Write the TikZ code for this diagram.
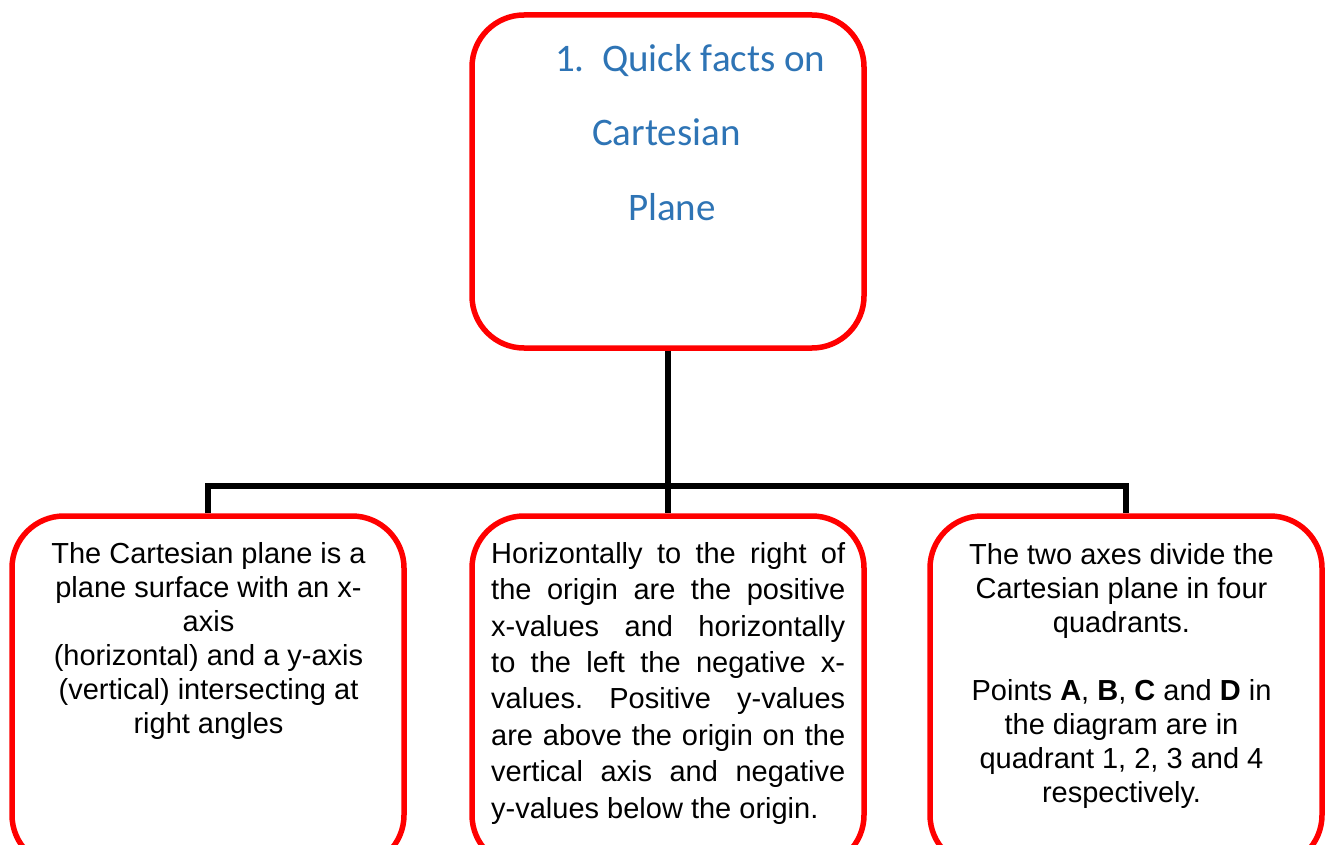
\documentclass[tikz,border=0pt]{standalone}
\usepackage{fontspec}
\setmainfont{Liberation Sans}
\newfontfamily\titlefont{Carlito}
\definecolor{boxred}{RGB}{255,0,0}
\definecolor{titleblue}{RGB}{46,116,181}
\frenchspacing
\begin{document}
\begin{tikzpicture}[x=1pt,y=-1pt,
  card/.style={draw=boxred, line width=5.5pt, rounded corners=52pt,
    minimum width=392pt, inner sep=0pt, fill=white},
  link/.style={draw=black, line width=5.5pt},
  heading/.style={anchor=base west, inner sep=0pt, text=titleblue,
    font=\titlefont\fontsize{39}{47}\selectfont},
  body/.style={inner sep=0pt, anchor=base, font=\fontsize{29}{34}\selectfont}
]
\useasboundingbox (0,0) rectangle (1327,845);
\clip (0,0) rectangle (1327,845);

% boxes
\node[card, minimum height=333pt] (top) at (668,181.5) {};
\node[card, minimum height=351pt] (left) at (208,691.5) {};
\node[card, minimum height=351pt] (mid) at (668,691.5) {};
\node[card, minimum height=351pt] (right) at (1126,691.5) {};

% connectors
\coordinate (bus) at (668,486);
\draw[link] (top.south) -- (mid.north);
\draw[link] (left.north) |- (bus) -| (right.north);

% title
\node[heading] (num) at (555,72) {1.};
\node[heading] (t1) at (602,72) {Quick facts on};
\node[heading] (t2) at (592,146) {Cartesian};
\node[heading] (t3) at (628,220) {Plane};

% body texts (anchored at the baseline of their last line)
\node[body, align=center] (lefttext) at (208.5,733)
  {The Cartesian plane is a\\plane surface with an x-\\axis\\(horizontal) and a y-axis\\(vertical) intersecting at\\right angles};

\node[body, align=left, anchor=base west, font=\fontsize{29}{36.4}\selectfont] (midtext) at (491,818)
  {\makebox[354pt][s]{Horizontally to the right of}\\
   \makebox[354pt][s]{the origin are the positive}\\
   \makebox[354pt][s]{x-values and horizontally}\\
   \makebox[354pt][s]{to the left the negative x-}\\
   \makebox[354pt][s]{values. Positive y-values}\\
   \makebox[354pt][s]{are above the origin on the}\\
   \makebox[354pt][s]{vertical axis and negative}\\
   y-values below the origin.};

\node[body, align=center] (righttext) at (1121.5,802)
  {The two axes divide the\\Cartesian plane in four\\quadrants.\\[34pt]Points \textbf{A}, \textbf{B}, \textbf{C} and \textbf{D} in\\the diagram are in\\quadrant 1, 2, 3 and 4\\respectively.};
\end{tikzpicture}
\end{document}
